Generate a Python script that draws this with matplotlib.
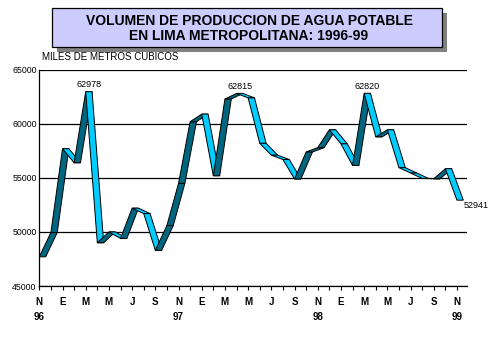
import matplotlib
matplotlib.use('Agg')
import matplotlib.pyplot as plt
from matplotlib.patches import Polygon, Rectangle

# ---- data ----
months = ['N', 'D', 'E', 'F', 'M', 'A', 'M', 'J', 'J', 'A', 'S', 'O'] * 3 + ['N']
values = [47700, 49950, 57700, 56400, 62978, 49000, 50000, 49400, 52200, 51700,
          48300, 50600, 54500, 60200, 60900, 55200, 62300, 62815, 62400, 58200,
          57100, 56700, 54900, 57400, 57800, 59450, 58150, 56150, 62820, 58800,
          59450, 55950, 55450, 54950, 54920, 55850, 52941]
tick_labels = ['N\n96', 'E', 'M', 'M', 'J', 'S', 'N\n97', 'E', 'M', 'M', 'J', 'S',
               'N\n98', 'E', 'M', 'M', 'J', 'S', 'N\n99']
y_ticks = [45000, 50000, 55000, 60000, 65000]
labelled_points = [4, 17, 28, 36]
title = 'VOLUMEN DE PRODUCCION DE AGUA POTABLE\nEN LIMA METROPOLITANA: 1996-99'
unit_label = 'MILES DE METROS CUBICOS'

DARK = '#006680'
LIGHT = '#00CCFF'
FONT = 'Liberation Sans'

W, H = 498, 358
fig = plt.figure(figsize=(W / 100, H / 100), dpi=100)
fig.patch.set_facecolor('white')

left, right = 39.3 / W, 466.7 / W
top, bottom = 1 - 69.8 / H, 1 - 286 / H
ax = fig.add_axes([left, bottom, right - left, top - bottom])

n = len(values)
xs = list(range(n))
depth = 0.55  # ribbon depth, in months

for i in range(n - 1):
    x0, x1 = xs[i], xs[i + 1]
    y0, y1 = values[i], values[i + 1]
    color = DARK if y1 > y0 else LIGHT
    poly = Polygon([(x0, y0), (x1, y1), (x1 + depth, y1), (x0 + depth, y0)],
                   closed=True, facecolor=color, edgecolor='black',
                   linewidth=0.7, zorder=3)
    ax.add_patch(poly)

ax.set_xlim(0, 36.84)
ax.set_ylim(y_ticks[0], y_ticks[-1])

ax.set_yticks(y_ticks)
ax.set_yticklabels([str(v) for v in y_ticks], fontsize=6.3, family=FONT)
ax.tick_params(axis='y', length=0, pad=2)

ax.set_xticks(xs, minor=True)
ax.set_xticks(xs[::2])
ax.set_xticklabels(tick_labels, fontsize=7, family=FONT, fontweight='bold',
                   linespacing=1.55)
ax.tick_params(axis='x', which='both', direction='out', length=3, width=0.8,
               pad=5, color='black')

ax.yaxis.grid(True, color='black', linewidth=0.9)
ax.set_axisbelow(True)
for s in ['top', 'right']:
    ax.spines[s].set_visible(False)
for s in ['left', 'bottom']:
    ax.spines[s].set_linewidth(0.9)
    ax.spines[s].set_color('black')

for i in labelled_points:
    if i == n - 1:
        ax.annotate(str(values[i]), xy=(xs[i] + depth, values[i]), xytext=(0, -0.5),
                    textcoords='offset points', ha='left', va='top',
                    fontsize=6.5, family=FONT, zorder=5)
    else:
        ax.annotate(str(values[i]), xy=(xs[i] + depth / 2, values[i]), xytext=(0, 2),
                    textcoords='offset points', ha='center', va='bottom',
                    fontsize=6.5, family=FONT, zorder=5)

# title box with shadow
bx0, by0, bx1, by1 = 52 / W, 1 - 46.7 / H, 441.7 / W, 1 - 8.3 / H
sh = 5
fig.patches.append(Rectangle((bx0 + sh / W, by0 - sh / H), bx1 - bx0, by1 - by0,
                             transform=fig.transFigure, facecolor='#808080',
                             edgecolor='none', zorder=1))
fig.patches.append(Rectangle((bx0, by0), bx1 - bx0, by1 - by0,
                             transform=fig.transFigure, facecolor='#CCCCFF',
                             edgecolor='black', linewidth=0.9, zorder=2))
fig.text((83 + 415) / 2 / W, 1 - 28.3 / H, title, ha='center', va='center',
         fontsize=10, fontweight='bold', family=FONT, linespacing=1.1, zorder=3)

fig.text(42 / W, 1 - 57.5 / H, unit_label, ha='left', va='center',
         fontsize=7, family=FONT)

fig.savefig('out.png', dpi=100, facecolor='white')
